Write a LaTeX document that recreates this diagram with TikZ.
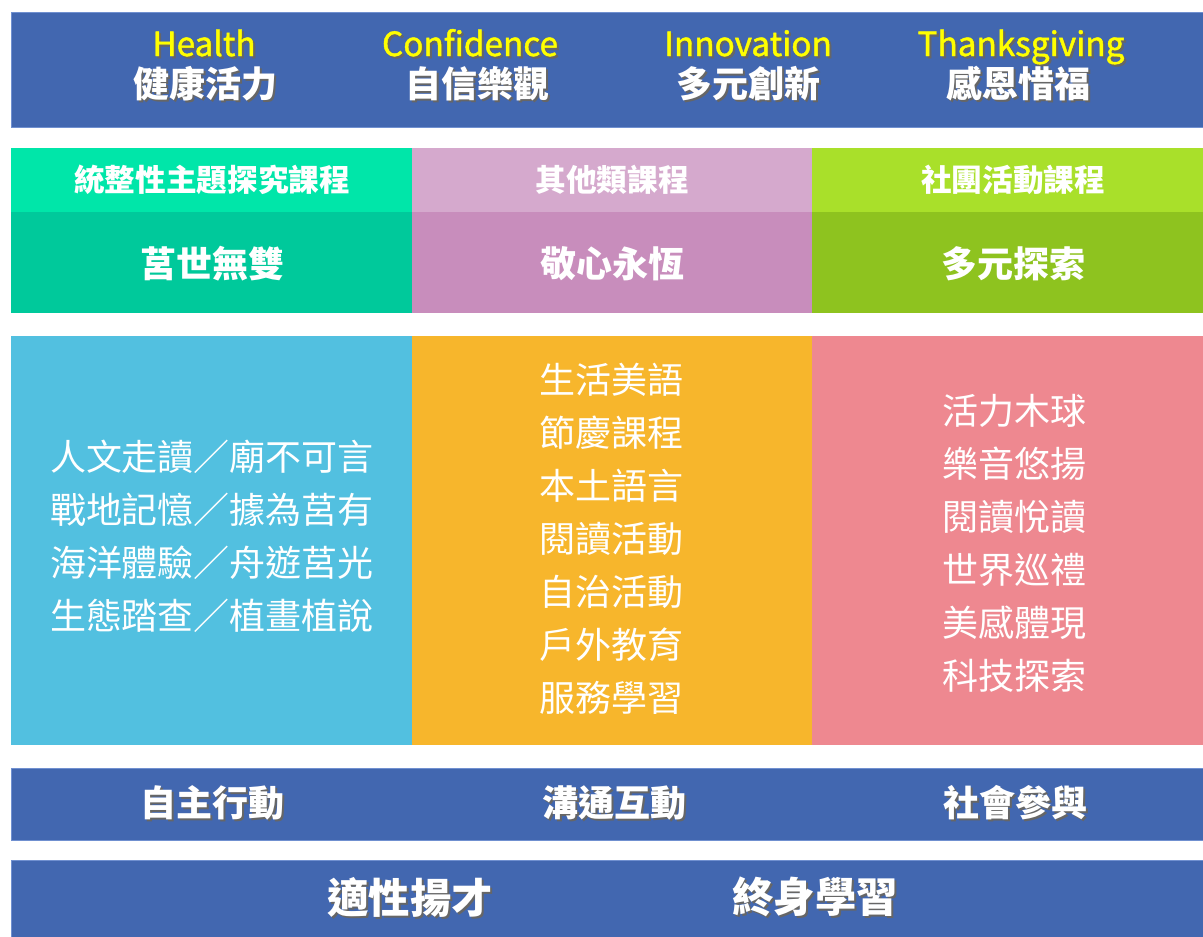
\documentclass[tikz,border=0pt]{standalone}
\usepackage{fontspec}
\setmainfont{Noto Sans CJK TC}
\newfontfamily\mottofont{Noto Sans CJK TC}[FakeBold=1.3]
\usepackage{tikz}

\definecolor{bandblue}{HTML}{4267B0}
\definecolor{bandline}{HTML}{7090D0}
\definecolor{mottoyellow}{HTML}{FFFF00}
\definecolor{tealhead}{HTML}{00E6A9}
\definecolor{teallow}{HTML}{00C99B}
\definecolor{mauvehead}{HTML}{D5A9CD}
\definecolor{mauvelow}{HTML}{C88DBC}
\definecolor{limehead}{HTML}{A9E02A}
\definecolor{limelow}{HTML}{8EC31F}
\definecolor{skyblock}{HTML}{52C0E0}
\definecolor{amberblock}{HTML}{F7B62C}
\definecolor{roseblock}{HTML}{EE8890}

\newcommand{\shadowed}[1]{\makebox[0pt][l]{\raisebox{-1.6pt}{\hspace{1.6pt}\textcolor{black!60}{#1}}}#1}

\begin{document}
\begin{tikzpicture}[x=0.75pt,y=-0.75pt,
		band/.style={fill=bandblue,draw=bandline,line width=0.6pt},
		motto/.style={text=mottoyellow,anchor=base,font=\mottofont\fontsize{25}{28}\selectfont},
		title/.style={text=white,font=\bfseries\fontsize{27}{30}\selectfont},
		head/.style={text=white,font=\bfseries\fontsize{23}{26}\selectfont},
		list/.style={text=white,align=center,font=\fontsize{27}{39.75}\selectfont},
		big/.style={text=white,font=\bfseries\fontsize{31}{34}\selectfont}]
		
		\useasboundingbox (0,0) rectangle (1203,936);
		
		% vision band
		\filldraw[band] (11,12) rectangle (1210,127);
		\node[motto] (enH) at (204,56) {\shadowed{Health}};
		\node[motto] (enC) at (470,56) {\shadowed{Confidence}};
		\node[motto] (enI) at (748,56) {\shadowed{Innovation}};
		\node[motto] (enT) at (1021,56) {\shadowed{Thanksgiving}};
		\node[title] (zhH) at (205,85) {\shadowed{健康活力}};
		\node[title] (zhC) at (477,85) {\shadowed{自信樂觀}};
		\node[title] (zhI) at (748,85) {\shadowed{多元創新}};
		\node[title] (zhT) at (1018,85) {\shadowed{感恩惜福}};
		
		% course groups
		\fill[tealhead] (11,148) rectangle (412,212);
		\fill[teallow] (11,212) rectangle (412,313);
		\fill[mauvehead] (412,148) rectangle (812,212);
		\fill[mauvelow] (412,212) rectangle (812,313);
		\fill[limehead] (812,148) rectangle (1210,212);
		\fill[limelow] (812,212) rectangle (1210,313);
		\node[head] (hdrA) at (212,180) {統整性主題探究課程};
		\node[head] (hdrB) at (612,180) {其他類課程};
		\node[head] (hdrC) at (1013,180) {社團活動課程};
		\node[title] (lowA) at (212,264) {莒世無雙};
		\node[title] (lowB) at (612,264) {敬心永恆};
		\node[title] (lowC) at (1013,264) {多元探索};
		
		% course lists
		\fill[skyblock] (11,336) rectangle (412,745);
		\fill[amberblock] (412,336) rectangle (812,745);
		\fill[roseblock] (812,336) rectangle (1210,745);
		\node[list] (listA) at (212,536) {人文走讀／廟不可言\\戰地記憶／據為莒有\\海洋體驗／舟遊莒光\\生態踏查／植畫植說};
		\node[list] (listB) at (611,539) {生活美語\\節慶課程\\本土語言\\閱讀活動\\自治活動\\戶外教育\\服務學習};
		\node[list] (listC) at (1014,543) {活力木球\\樂音悠揚\\閱讀悅讀\\世界巡禮\\美感體現\\科技探索};
		
		% core competencies
		\filldraw[band] (11,768) rectangle (1210,840);
		\node[title] (compA) at (212,804) {\shadowed{自主行動}};
		\node[title] (compB) at (614,804) {\shadowed{溝通互動}};
		\node[title] (compC) at (1015,804) {\shadowed{社會參與}};
		
		% goals
		\filldraw[band] (11,860) rectangle (1210,945);
		\node[big] (goalA) at (410,898) {\shadowed{適性揚才}};
		\node[big] (goalB) at (815,898) {\shadowed{終身學習}};
\end{tikzpicture}
\end{document}
